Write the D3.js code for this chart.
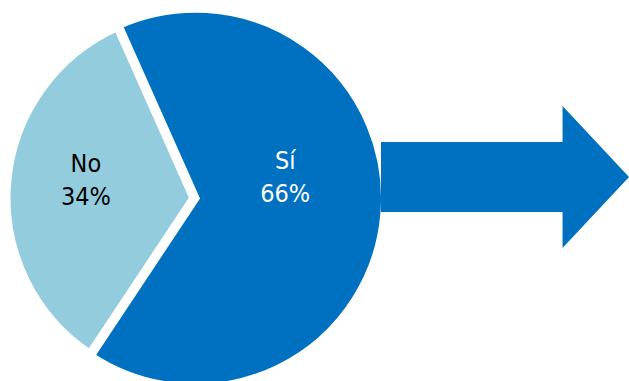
<!DOCTYPE html>
<html>
<head>
<meta charset="utf-8">
<script src="https://cdn.jsdelivr.net/npm/d3@7"></script>
<style>
  html, body { margin: 0; padding: 0; background: #fff; }
  svg { display: block; }
</style>
</head>
<body>
<svg id="chart" width="629" height="381"></svg>
<script>
// ---- data ----
const categories = ["Sí", "No"];
const values = [66, 34];
const valueLabels = ["66%", "34%"];

// ---- styles / layout ----
const W = 629, H = 381;
const sliceColors = { "Sí": "#0070C0", "No": "#93CDDD" };
const labelColors = { "Sí": "#ffffff", "No": "#000000" };
const cx = 193.5, cy = 198;
const gap = 8;                                   // white separating stroke
const visibleR = { "Sí": 185.5, "No": 183 };
const explode = { "Sí": 2, "No": 0 };
const labelR = { "Sí": 92, "No": 108 };
const labelBaseY = { "Sí": 169, "No": 172 };
const lineGap = 33;
const deg = Math.PI / 180;

const svg = d3.select("#chart");

const data = categories.map((c, i) => ({ cat: c, value: values[i], label: valueLabels[i] }));

const pie = d3.pie()
  .sort(null)
  .value(d => d.value)
  .startAngle(-24 * deg)
  .endAngle(336 * deg);

const arcs = pie(data);

const g = svg.append("g");

// draw No first, then Sí
const drawOrder = arcs.slice().sort((a, b) => (a.data.cat === "No" ? -1 : 1));

drawOrder.forEach(a => {
  const mid = (a.startAngle + a.endAngle) / 2;
  const ex = explode[a.data.cat];
  const ox = cx + ex * Math.sin(mid);
  const oy = cy - ex * Math.cos(mid);
  const arc = d3.arc().innerRadius(0).outerRadius(visibleR[a.data.cat] + gap / 2);
  g.append("path")
    .attr("transform", `translate(${ox},${oy})`)
    .attr("d", arc(a))
    .attr("fill", sliceColors[a.data.cat])
    .attr("stroke", "#ffffff")
    .attr("stroke-width", gap)
    .attr("stroke-linejoin", "miter");
});

// labels
arcs.forEach(a => {
  const mid = (a.startAngle + a.endAngle) / 2;
  const lx = cx + labelR[a.data.cat] * Math.sin(mid);
  const ly = labelBaseY[a.data.cat];
  const t = svg.append("text")
    .attr("text-anchor", "middle")
    .attr("fill", labelColors[a.data.cat])
    .style("font-family", "'DejaVu Sans Condensed', 'Open Sans', 'DejaVu Sans', sans-serif")
    .style("font-size", "25px");
  t.append("tspan").attr("x", lx).attr("y", ly).text(a.data.cat);
  t.append("tspan").attr("x", lx).attr("y", ly + lineGap).text(a.data.label);
});

// arrow
const ax = d3.scaleLinear().domain([0, 1]).range([381, 629]);
const ay = d3.scaleLinear().domain([-1, 1]).range([106, 248]);
const shaftHalf = 0.493, headStart = 0.732;
const arrowPts = [
  [0, -shaftHalf], [headStart, -shaftHalf], [headStart, -1],
  [1, 0],
  [headStart, 1], [headStart, shaftHalf], [0, shaftHalf]
];
svg.append("path")
  .attr("d", d3.line().x(p => ax(p[0])).y(p => ay(p[1]))(arrowPts) + "Z")
  .attr("fill", "#0070C0");
</script>
</body>
</html>
